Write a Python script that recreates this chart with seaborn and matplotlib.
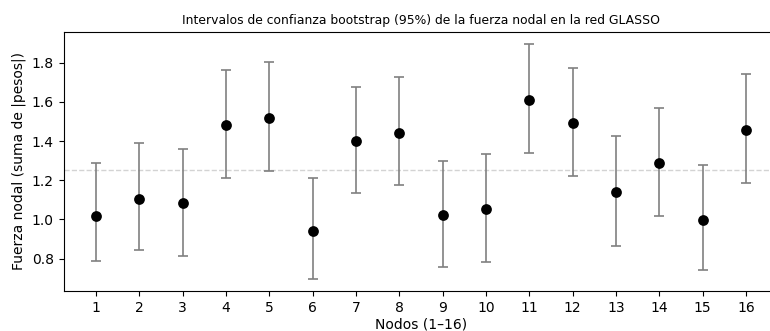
import numpy as np
import pandas as pd
import matplotlib
matplotlib.use("Agg")
import matplotlib.pyplot as plt
import seaborn as sns

# Node strength estimates and bootstrap 95% CI bounds
nodes = list(range(1, 17))
strength = [1.018, 1.106, 1.086, 1.481, 1.516, 0.941, 1.402, 1.443,
            1.023, 1.054, 1.610, 1.491, 1.140, 1.287, 0.999, 1.455]
ci_low = [0.788, 0.843, 0.815, 1.210, 1.249, 0.696, 1.135, 1.174,
          0.758, 0.785, 1.341, 1.222, 0.866, 1.018, 0.744, 1.185]
ci_high = [1.287, 1.392, 1.360, 1.763, 1.802, 1.213, 1.678, 1.727,
           1.300, 1.334, 1.897, 1.775, 1.426, 1.569, 1.278, 1.742]

df = pd.DataFrame({"Nodo": nodes, "Fuerza": strength, "Inf": ci_low, "Sup": ci_high})

sns.set_style("ticks", rc={"axes.edgecolor": "black", "text.color": "black",
                           "axes.labelcolor": "black", "xtick.color": "black",
                           "ytick.color": "black"})
plt.rcParams['font.family'] = ['DejaVu Sans']

fig = plt.figure(figsize=(7.7, 3.31), dpi=100)
# axes run past the right edge of the figure (the reference is cropped there)
ax = fig.add_axes([63.5 / 770, 40 / 331, 715 / 770, 259 / 331])

yerr = np.array([df["Fuerza"] - df["Inf"], df["Sup"] - df["Fuerza"]])
ax.errorbar(df["Nodo"], df["Fuerza"], yerr=yerr, fmt="none",
            ecolor="gray", elinewidth=1.2, capsize=3.5, capthick=1.2, zorder=1)
sns.scatterplot(data=df, x="Nodo", y="Fuerza", color="black", s=60,
                edgecolor="black", linewidth=0, ax=ax, zorder=3)
ax.axhline(df["Fuerza"].mean(), color="lightgray", linestyle="--", linewidth=1, zorder=0)

ax.set_xticks(nodes)
ax.set_xlim(0.25, 16.75)
ax.set_ylim(0.635, 1.957)
ax.set_yticks([0.8, 1.0, 1.2, 1.4, 1.6, 1.8])
ax.tick_params(labelsize=10)
ax.set_title("Intervalos de confianza bootstrap (95%) de la fuerza nodal en la red GLASSO",
             fontsize=8.9)
ax.set_xlabel("Nodos (1–16)", fontsize=10, labelpad=2)
ax.set_ylabel("Fuerza nodal (suma de |pesos|)", fontsize=10)

fig.savefig("out.png", dpi=100)
